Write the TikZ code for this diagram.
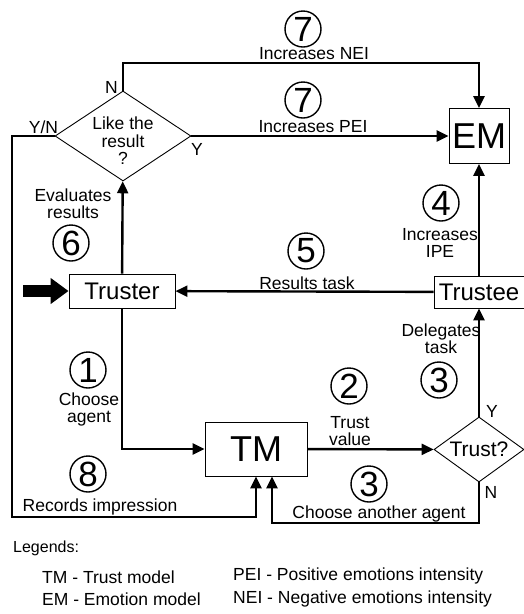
\documentclass[tikz,border=0pt]{standalone}
\usepackage{fontspec}
\setmainfont{Liberation Sans}
\usetikzlibrary{arrows.meta,shapes.geometric}
\newcommand{\fsz}[1]{\fontsize{#1}{#1}\selectfont}

\begin{document}
\begin{tikzpicture}[x=1pt, y=-1pt,
		box/.style={draw, line width=0.9pt, inner sep=0pt},
		choice/.style={diamond, draw, line width=0.9pt, inner sep=0pt, align=center},
		numc/.style={circle, draw, line width=1.4pt, minimum size=36pt, inner sep=0pt, font=\fsz{35}},
		lbl/.style={inner sep=0pt, align=center, font=\fontsize{17.5}{17}\selectfont},
		flow/.style={line width=2.4pt, -{Triangle[length=12pt,width=11pt]}}]
	\useasboundingbox (0,0) rectangle (524,614);
	\node[box, minimum width=60pt, minimum height=55pt, font=\fsz{36}] (em) at (479,136) {EM};
	\node[box, minimum width=106pt, minimum height=34pt, font=\fsz{24}] (truster) at (122,291) {Truster};
	\node[box, minimum width=90pt, minimum height=32pt, font=\fsz{24}] (trustee) at (479,292) {Trustee};
	\node[box, minimum width=102pt, minimum height=54pt, font=\fsz{36}] (tm) at (256,449) {TM};
	\node[choice, aspect=2, minimum width=90pt, minimum height=65pt, font=\fsz{21}] (trust) at (479,449.5) {Trust?};
	\node[choice, minimum width=136pt, minimum height=90pt] (like) at (123,136) {};
	\node[lbl, font=\fsz{17.5}] (liketxt) at (123,141) {Like the\\result\\?};
	\coordinate (start) at (23,291);
	\coordinate (top) at (123,63);
	\coordinate (left) at (12,517);
	\coordinate (bottom) at (479,523);

	\draw[line width=12pt, -{Triangle[length=18pt,width=25pt]}] (start) -- (truster);
	\path[flow]
	(truster) edge (like)
	(tm) edge (trust)
	(trust) edge (trustee)
	(trustee) edge (truster) edge (em)
	(like) edge (em);
	\draw[flow] (truster) |- (tm);
	\draw[flow] (trust.south) -- (bottom) -| ([xshift=16pt]tm.south);
	\draw[flow] (like.north) -- (top) -| (em.north);
	\draw[flow] (like.west) -| (left) -| (tm.south);

	\node[numc] (n7a) at (303,29) {7};
	\node[lbl] (nei) at (314,54) {Increases NEI};
	\node[numc] (n7b) at (303,100) {7};
	\node[lbl] (pei) at (313,127) {Increases PEI};
	\node[lbl] (ln) at (111.5,87.5) {N};
	\node[lbl] (lyn) at (43.5,127) {Y/N};
	\node[lbl] (ly) at (197,149) {Y};
	\node[lbl] (eval) at (73,204) {Evaluates\\results};
	\node[numc] (n6) at (71,243) {6};
	\node[numc] (n5) at (306,251) {5};
	\node[lbl] (res) at (307,283) {Results task};
	\node[numc] (n4) at (441,203) {4};
	\node[lbl] (ipe) at (440,243) {Increases\\IPE};
	\node[lbl] (deleg) at (441,339) {Delegates\\task};
	\node[numc] (n3a) at (439,380) {3};
	\node[lbl] (ty) at (492,411) {Y};
	\node[numc] (n1) at (88,370) {1};
	\node[lbl] (choose) at (89,409) {Choose\\agent};
	\node[numc] (n2) at (349,386) {2};
	\node[lbl] (tval) at (350,431) {Trust\\value};
	\node[lbl] (tn) at (491,492) {N};
	\node[numc] (n3b) at (369,484) {3};
	\node[lbl] (other) at (379,514) {Choose another agent};
	\node[numc] (n8) at (88,474) {8};
	\node[lbl] (rec) at (100,507) {Records impression};

	\node[lbl, anchor=west, font=\fsz{16}] (leg) at (13,548) {Legends:};
	\node[lbl, anchor=west] (legtm) at (42,577) {TM - Trust model};
	\node[lbl, anchor=west] (legem) at (42,599) {EM - Emotion model};
	\node[lbl, anchor=west] (legpei) at (233,576) {PEI - Positive emotions intensity};
	\node[lbl, anchor=west] (legnei) at (233,599) {NEI - Negative emotions intensity};
\end{tikzpicture}
\end{document}
